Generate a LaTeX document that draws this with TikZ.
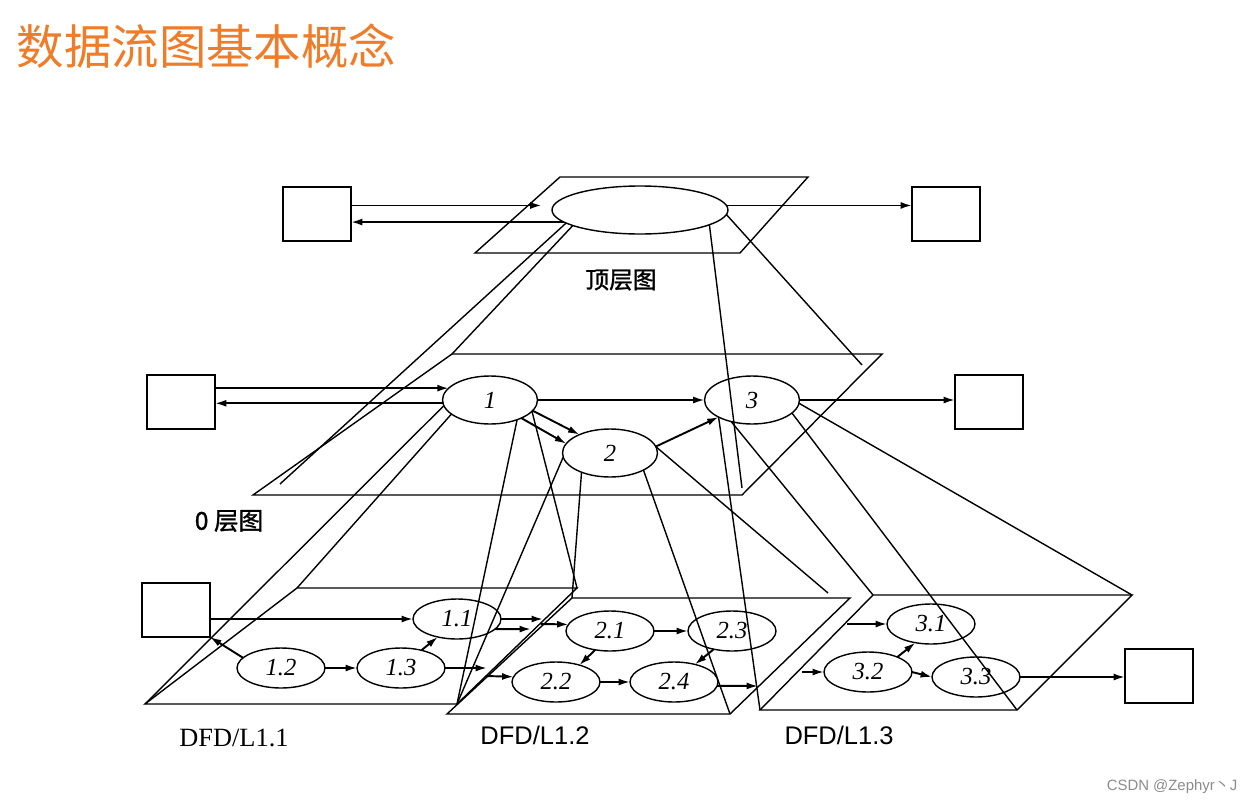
\documentclass[tikz,border=0pt]{standalone}
\usepackage{fontspec}
\setmainfont{Liberation Serif}
\setsansfont{Liberation Sans}
\newfontfamily\cjk{Noto Sans CJK SC}
\newfontfamily\cjkbf[FakeBold=1.2]{Noto Sans CJK SC}
\usepackage{tikz}
\usetikzlibrary{arrows.meta,shapes.geometric,positioning}
\definecolor{titleorange}{RGB}{238,124,40}

\begin{document}
\begin{tikzpicture}[x=0.02cm,y=-0.02cm,line width=0.8pt,
  ext/.style={draw,rectangle,minimum width=1.36cm,minimum height=1.08cm,inner sep=0pt,outer sep=0pt},
  ctx/.style={draw,ellipse,minimum width=3.52cm,minimum height=0.96cm,inner sep=0pt,outer sep=0pt},
  bub/.style={draw,ellipse,minimum width=1.9cm,minimum height=0.96cm,inner sep=0pt,outer sep=0pt,font=\itshape\fontsize{14}{14}\selectfont},
  sub/.style={draw,ellipse,minimum width=1.76cm,minimum height=0.8cm,inner sep=0pt,outer sep=0pt,font=\itshape\fontsize{14}{14}\selectfont},
  flow/.style={-{Latex[length=6.5pt,width=4pt]},line width=1.1pt},
  lvl/.style={font=\sffamily\fontsize{14.5}{15}\selectfont}]

\useasboundingbox[fill=white] (0,0) rectangle (1251,805);

\node[anchor=west,inner sep=0pt,text=titleorange,font=\cjk\fontsize{27}{27}\selectfont] (title) at (16,46) {数据流图基本概念};

\coordinate (t1) at (560,177);
\coordinate (t2) at (808,177);
\coordinate (t3) at (740,253);
\coordinate (t4) at (475,253);
\draw (t1) -- (t2) -- (t3) -- (t4) -- cycle;

\node[ext] (lbT) at (317,214) {};
\node[ext] (rbT) at (946,214) {};
\node[ctx] (top) at (640,210) {};
\draw[flow,shorten >=0.24cm] (lbT.east |- top.177) -- (top.177);
\draw[flow] (top.189) -- (lbT.east |- top.189);
\draw[flow] (top.3) -- (rbT.west |- top.3);
\node[font=\cjkbf\fontsize{13.5}{14}\selectfont] (topcap) at (621,280) {顶层图};

\coordinate (m1) at (452,354);
\coordinate (m2) at (882,354);
\coordinate (m3) at (742,495);
\coordinate (m4) at (253,495);
\coordinate (m2i) at (862,365);
\coordinate (m3i) at (742,488);
\coordinate (m4i) at (280,484);
\draw (m1) -- (m2) -- (m3) -- (m4) -- cycle;
\draw (top.190) -- (m4i);
\draw (top.193) -- (m1);
\draw (top.348) -- (m3i);
\draw (top.357) -- (m2i);

\node[ext] (lb0) at (181,402) {};
\node[ext] (rb0) at (989,402) {};
\node[bub] (p1) at (490,400) {1};
\node[bub] (p2) at (610,453) {2};
\node[bub] (p3) at (752,400) {3};
\draw[flow] (lb0.east |- p1.164) -- (p1.164);
\draw[flow] (p1.184) -- (lb0.east |- p1.184);
\draw[flow] (p1.east) -- (p3.west);
\draw[flow] (p3.east) -- (rb0.west |- p3.east);
\draw[flow] (p1.-14) -- (p2.149);
\draw[flow] (p1.-30) -- (p2.168);
\draw[flow] (p2.8) -- (p3.207);
\node[font=\cjkbf\fontsize{14}{14}\selectfont] (midcap) at (229,521) {0 层图};

\coordinate (a1) at (297,588);
\coordinate (a2) at (577,588);
\coordinate (a3) at (457,704);
\coordinate (a4) at (145,704);
\coordinate (b1) at (572,598);
\coordinate (b2) at (850,598);
\coordinate (b3) at (730,714);
\coordinate (b4) at (447,714);
\coordinate (b2i) at (828,593);
\coordinate (c1) at (873,595);
\coordinate (c2) at (1132,595);
\coordinate (c3) at (1017,710);
\coordinate (c4) at (760,710);
\draw (a1) -- (a2) -- (a3) -- (a4) -- cycle;
\draw (b1) -- (b2) -- (b3) -- (b4) -- cycle;
\draw (c1) -- (c2) -- (c3) -- (c4) -- cycle;

\draw (p1.187) -- (a4);
\draw (p1.200) -- (a1);
\draw (p1.324) -- (a3);
\draw (p1.345) -- (a2);
\draw (p2.185) -- (a3);
\draw (p2.214) -- (b1);
\draw (p2.333) -- (b3);
\draw (p2.8) -- (b2i);
\draw (p3.207) -- (c4);
\draw (p3.226) -- (c1);
\draw (p3.342) -- (c3);
\draw (p3.356) -- (c2);

\node[ext] (lb1) at (176,610) {};
\node[sub] (e11) at (457,619) {1.1};
\node[sub] (e12) at (281,668) {1.2};
\node[sub] (e13) at (401,668) {1.3};
\coordinate (o1) at (543,619);
\coordinate (o2) at (531,629);
\coordinate (o3) at (487,668);
\draw[flow] (lb1.east |- e11.west) -- (e11.west);
\draw[flow] (e12.165) -- (lb1.south east);
\draw[flow] (e12.east) -- (e13.west);
\draw[flow] (e13.41) -- (e11.223);
\draw[flow] (e11.east) -- (o1);
\draw[flow] (e11.-15) -- (o2);
\draw[flow] (e13.east) -- (o3);

\node[sub] (e21) at (610,631) {2.1};
\node[sub] (e22) at (556,682) {2.2};
\node[sub] (e23) at (732,631) {2.3};
\node[sub] (e24) at (674,682) {2.4};
\coordinate (i1) at (541,624);
\coordinate (i2) at (486,676);
\coordinate (o4) at (758,686);
\draw[flow] (i1) -- (e21.171);
\draw[flow] (i2) -- (e22.173);
\draw[flow] (e21.east) -- (e23.west);
\draw[flow] (e22.east) -- (e24.west);
\draw[flow] (e21.232) -- (e22.36);
\draw[flow] (e23.225) -- (e24.40);
\draw[flow] (e24.-5) -- (o4);

\node[sub] (e31) at (931,624) {3.1};
\node[sub] (e32) at (868,672) {3.2};
\node[sub] (e33) at (976,677) {3.3};
\node[ext] (rb1) at (1159,676) {};
\coordinate (i3) at (847,624);
\coordinate (i4) at (802,672);
\draw[flow] (i3) -- (e31.west);
\draw[flow] (i4) -- (e32.west);
\draw[flow] (e32.east) -- (e33.west);
\draw[flow] (e32.27) -- (e31.230);
\draw[flow] (e33.east) -- (rb1.west |- e33.east);

\node[font=\fontsize{15}{15}\selectfont] (cap1) at (234,738) {DFD/L1.1};
\node[lvl] (cap2) at (535,735) {DFD/L1.2};
\node[lvl] (cap3) at (839,735) {DFD/L1.3};
\node[text=black!45,font=\sffamily\fontsize{8.5}{9}\selectfont] (mark) at (1172,787) {CSDN @Zephyr{\cjk 丶}J};
\end{tikzpicture}
\end{document}
